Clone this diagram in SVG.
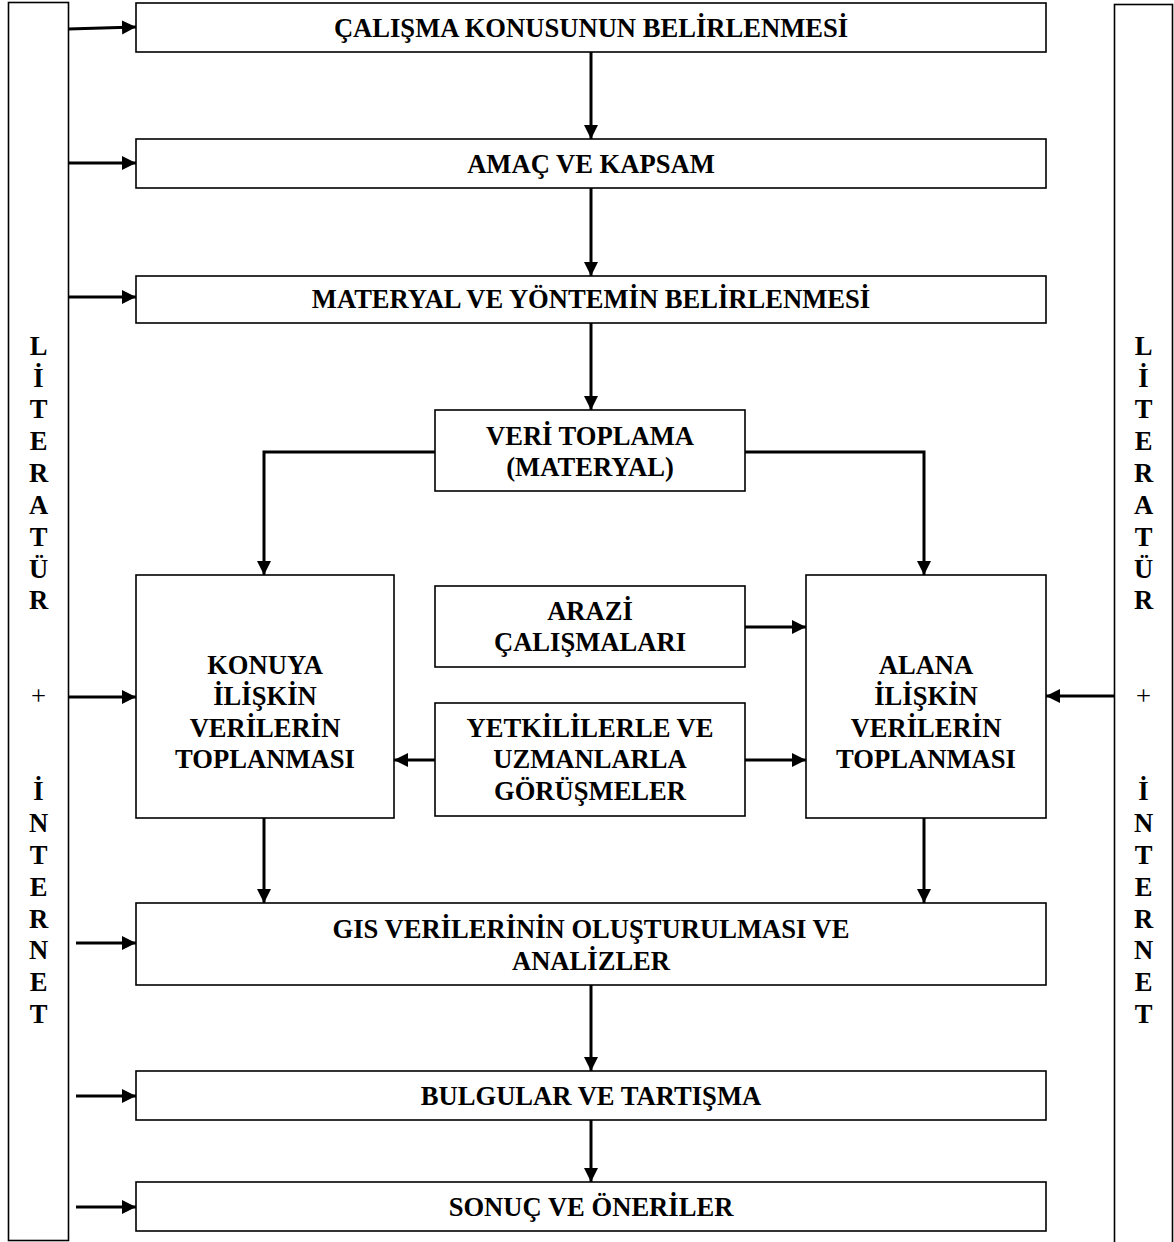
<svg xmlns="http://www.w3.org/2000/svg" width="1174" height="1242" viewBox="0 0 1174 1242">
<defs>
<marker id="ah" markerUnits="userSpaceOnUse" markerWidth="16" markerHeight="16" viewBox="0 0 16 16" refX="14" refY="8" orient="auto">
<path d="M0,1 L14,8 L0,15 Z" fill="#000"/>
</marker>
<style>
.box{fill:#fff;stroke:#000;stroke-width:1.6}
.t{font-family:"Liberation Serif","Times New Roman",serif;font-weight:bold;font-size:26.6px;text-anchor:middle;fill:#000}
.p{font-family:"Liberation Serif","Times New Roman",serif;font-weight:normal;font-size:26.6px;text-anchor:middle;fill:#000}
.c{fill:none;stroke:#000;stroke-width:3;marker-end:url(#ah)}
</style>
</defs>
<rect width="1174" height="1242" fill="#fff"/>

<g id="left-panel">
<rect class="box" x="8.5" y="2.5" width="60" height="1238"/>
<text class="t" x="38.5" y="355">L</text>
<text class="t" x="38.5" y="387">İ</text>
<text class="t" x="38.5" y="418">T</text>
<text class="t" x="38.5" y="450">E</text>
<text class="t" x="38.5" y="482">R</text>
<text class="t" x="38.5" y="514">A</text>
<text class="t" x="38.5" y="546">T</text>
<text class="t" x="38.5" y="578">Ü</text>
<text class="t" x="38.5" y="609">R</text>
<text class="p" x="38.5" y="705">+</text>
<text class="t" x="38.5" y="800">İ</text>
<text class="t" x="38.5" y="832">N</text>
<text class="t" x="38.5" y="864">T</text>
<text class="t" x="38.5" y="896">E</text>
<text class="t" x="38.5" y="928">R</text>
<text class="t" x="38.5" y="959">N</text>
<text class="t" x="38.5" y="991">E</text>
<text class="t" x="38.5" y="1023">T</text>
</g>

<g id="right-panel">
<rect class="box" x="1114.5" y="4.5" width="58" height="1250"/>
<text class="t" x="1143.5" y="355">L</text>
<text class="t" x="1143.5" y="387">İ</text>
<text class="t" x="1143.5" y="418">T</text>
<text class="t" x="1143.5" y="450">E</text>
<text class="t" x="1143.5" y="482">R</text>
<text class="t" x="1143.5" y="514">A</text>
<text class="t" x="1143.5" y="546">T</text>
<text class="t" x="1143.5" y="578">Ü</text>
<text class="t" x="1143.5" y="609">R</text>
<text class="p" x="1143.5" y="705">+</text>
<text class="t" x="1143.5" y="800">İ</text>
<text class="t" x="1143.5" y="832">N</text>
<text class="t" x="1143.5" y="864">T</text>
<text class="t" x="1143.5" y="896">E</text>
<text class="t" x="1143.5" y="928">R</text>
<text class="t" x="1143.5" y="959">N</text>
<text class="t" x="1143.5" y="991">E</text>
<text class="t" x="1143.5" y="1023">T</text>
</g>

<g id="n1">
<rect class="box" x="136" y="3" width="910" height="49"/>
<text class="t" x="591" y="37">ÇALIŞMA KONUSUNUN BELİRLENMESİ</text>
</g>
<g id="n2">
<rect class="box" x="136" y="139" width="910" height="49"/>
<text class="t" x="591" y="173">AMAÇ VE KAPSAM</text>
</g>
<g id="n3">
<rect class="box" x="136" y="276" width="910" height="47"/>
<text class="t" x="591" y="308">MATERYAL VE YÖNTEMİN BELİRLENMESİ</text>
</g>
<g id="n4">
<rect class="box" x="435" y="410" width="310" height="81"/>
<text class="t" x="590" y="445">VERİ TOPLAMA</text>
<text class="t" x="590" y="476">(MATERYAL)</text>
</g>
<g id="n5">
<rect class="box" x="136" y="575" width="258" height="243"/>
<text class="t" x="265" y="674">KONUYA</text>
<text class="t" x="265" y="705">İLİŞKİN</text>
<text class="t" x="265" y="737">VERİLERİN</text>
<text class="t" x="265" y="768">TOPLANMASI</text>
</g>
<g id="n6">
<rect class="box" x="435" y="586" width="310" height="81"/>
<text class="t" x="590" y="620">ARAZİ</text>
<text class="t" x="590" y="651">ÇALIŞMALARI</text>
</g>
<g id="n7">
<rect class="box" x="435" y="703" width="310" height="113"/>
<text class="t" x="590" y="737">YETKİLİLERLE VE</text>
<text class="t" x="590" y="768">UZMANLARLA</text>
<text class="t" x="590" y="800">GÖRÜŞMELER</text>
</g>
<g id="n8">
<rect class="box" x="806" y="575" width="240" height="243"/>
<text class="t" x="926" y="674">ALANA</text>
<text class="t" x="926" y="705">İLİŞKİN</text>
<text class="t" x="926" y="737">VERİLERİN</text>
<text class="t" x="926" y="768">TOPLANMASI</text>
</g>
<g id="n9">
<rect class="box" x="136" y="903" width="910" height="82"/>
<text class="t" x="591" y="938">GIS VERİLERİNİN OLUŞTURULMASI VE</text>
<text class="t" x="591" y="970">ANALİZLER</text>
</g>
<g id="n10">
<rect class="box" x="136" y="1071" width="910" height="49"/>
<text class="t" x="591" y="1105">BULGULAR VE TARTIŞMA</text>
</g>
<g id="n11">
<rect class="box" x="136" y="1182" width="910" height="49"/>
<text class="t" x="591" y="1216">SONUÇ VE ÖNERİLER</text>
</g>

<g id="connectors">
<path class="c" d="M591,52 V139"/>
<path class="c" d="M591,188 V276"/>
<path class="c" d="M591,323 V410"/>
<path class="c" d="M435,452 H264 V575"/>
<path class="c" d="M745,452 H924 V575"/>
<path class="c" d="M745,627 H806"/>
<path class="c" d="M435,760 H394"/>
<path class="c" d="M745,760 H806"/>
<path class="c" d="M264,818 V903"/>
<path class="c" d="M924,818 V903"/>
<path class="c" d="M591,985 V1071"/>
<path class="c" d="M591,1120 V1182"/>
<path class="c" d="M68,29 L136,27"/>
<path class="c" d="M68,163 H136"/>
<path class="c" d="M68,297 H136"/>
<path class="c" d="M68,697 H136"/>
<path class="c" d="M76,943 H136"/>
<path class="c" d="M76,1096 H136"/>
<path class="c" d="M76,1207 H136"/>
<path class="c" d="M1114,696 H1046"/>
</g>
</svg>
